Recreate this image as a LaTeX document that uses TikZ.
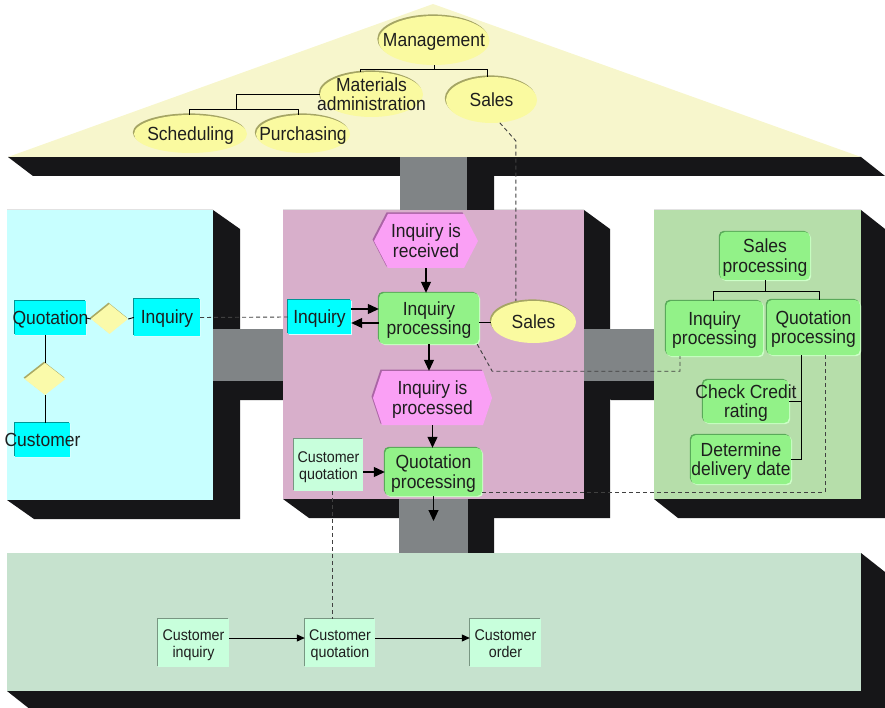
\documentclass[tikz,border=0pt]{standalone}
\usepackage{fontspec}
\setmainfont{Liberation Sans}[FakeStretch=0.92]
\usetikzlibrary{shapes.geometric,shadows,arrows.meta}

\definecolor{ink}{RGB}{30,30,30}
\definecolor{slabc}{RGB}{22,22,24}
\definecolor{connc}{RGB}{128,132,134}
\definecolor{roofc}{RGB}{247,246,204}
\definecolor{orgpanel}{RGB}{200,255,255}
\definecolor{procpanel}{RGB}{216,175,203}
\definecolor{funcpanel}{RGB}{182,222,170}
\definecolor{outpanel}{RGB}{198,226,206}
\definecolor{ellfill}{RGB}{250,250,160}
\definecolor{elledge}{RGB}{165,165,100}
\definecolor{clsfill}{RGB}{0,255,255}
\definecolor{clsedge}{RGB}{0,150,150}
\definecolor{clslight}{RGB}{215,255,255}
\definecolor{fnfill}{RGB}{146,242,136}
\definecolor{fnedge}{RGB}{90,170,90}
\definecolor{fnlight}{RGB}{205,255,200}
\definecolor{hexfill}{RGB}{250,160,245}
\definecolor{hexedge}{RGB}{170,100,165}
\definecolor{docfill}{RGB}{200,255,220}
\definecolor{docedge}{RGB}{120,150,130}
\definecolor{relfill}{RGB}{250,250,170}
\definecolor{reledge}{RGB}{170,170,100}

\newcommand\bigtxt{\fontsize{19}{19.5}\selectfont}
\newcommand\smalltxt{\fontsize{15.5}{17.7}\selectfont}
% centred label of zero width, so the text never changes the size of its shape
\newcommand\lbl[1]{\makebox[0pt]{\raisebox{-2.5pt}[\height][\depth]{\begin{tabular}{@{}c@{}}#1\end{tabular}}}}
% block of a slab seen from above: the rectangle plus its extrusion towards the lower right
\newcommand\slabfill[6]{\fill[slab] (#1,#2) -- (#3,#2) -- (#3+#5,#2+#6) -- (#3+#5,#4+#6) -- (#1+#5,#4+#6) -- (#1,#4) -- cycle;}
% event hexagon: centre x, centre y, half width, half height, slant
\newcommand\eventhex[5]{%
  \fill[hexedge] (#1-#3-1.5,#2-1.5) -- (#1-#3+#5-1.5,#2-#4-1.5) -- (#1+#3-#5-1.5,#2-#4-1.5) -- (#1+#3-1.5,#2-1.5) -- (#1+#3-#5-1.5,#2+#4-1.5) -- (#1-#3+#5-1.5,#2+#4-1.5) -- cycle;
  \fill[hexfill] (#1-#3,#2) -- (#1-#3+#5,#2-#4) -- (#1+#3-#5,#2-#4) -- (#1+#3,#2) -- (#1+#3-#5,#2+#4) -- (#1-#3+#5,#2+#4) -- cycle;}

\tikzset{
  slab/.style={fill=slabc},
  conn/.style={fill=connc},
  txt/.style={text=ink, inner sep=0pt, font=\bigtxt},
  ell/.style={ellipse, inner sep=0pt, fill=ellfill,
    general shadow={fill=elledge, shadow xshift=-1.2pt, shadow yshift=1.6pt}},
  cls/.style={rectangle, txt, fill=clsfill,
    general shadow={fill=clslight, shadow xshift=1.2pt, shadow yshift=-1.2pt},
    general shadow={fill=clsedge, shadow xshift=-1.2pt, shadow yshift=1.2pt}},
  fn/.style={rectangle, rounded corners=5pt, txt, fill=fnfill,
    general shadow={fill=fnlight, shadow xshift=1.2pt, shadow yshift=-1.2pt},
    general shadow={fill=fnedge, shadow xshift=-1.2pt, shadow yshift=1.2pt}},
  doc/.style={rectangle, txt, font=\smalltxt, fill=docfill,
    general shadow={fill=docedge, shadow xshift=-1pt, shadow yshift=1.2pt}},
  rel/.style={diamond, inner sep=0pt, fill=relfill,
    general shadow={fill=reledge, shadow xshift=-1pt, shadow yshift=1.4pt}},
  arr/.style={draw=black, line width=1.1pt, -{Triangle[length=11pt,width=10pt]}},
  arrs/.style={draw=black, line width=1pt, -{Triangle[length=8pt,width=7pt]}},
  tree/.style={draw=black, line width=0.9pt},
  xref/.style={draw=ink!85, line width=0.9pt, dash pattern=on 4pt off 3pt},
}

\begin{document}
\begin{tikzpicture}[x=1pt,y=-1pt]
\useasboundingbox (0,0) rectangle (885,708);
\clip (0,0) rectangle (885,708);

% ---- slabs: extrusions first
\fill[slab] (8,157) -- (861,157) -- (885,176) -- (33,176) -- cycle;
\slabfill{7}{210}{213}{500}{27}{19}
\slabfill{283}{210}{584}{499}{26}{19}
\slabfill{654}{210}{861}{499}{24}{19}
\slabfill{7}{553}{861}{691}{24}{19}
% connecting beams
\slabfill{400}{157}{467}{210}{27}{19}
\slabfill{213}{329}{283}{381}{27}{19}
\slabfill{584}{329}{654}{381}{27}{19}
\slabfill{399}{499}{468}{553}{26}{19}
\fill[conn] (400,157) rectangle (467,210);
\fill[conn] (213,329) rectangle (283,381);
\fill[conn] (584,329) rectangle (654,381);
\fill[conn] (399,499) rectangle (468,553);
% faces
\fill[roofc] (8,157) -- (433,4) -- (861,157) -- cycle;
\fill[orgpanel] (7,210) rectangle (213,500);
\fill[procpanel] (283,210) rectangle (584,499);
\fill[funcpanel] (654,210) rectangle (861,499);
\fill[outpanel] (7,553) rectangle (861,691);

% ---- organisation (roof)
\node[ell, minimum width=111pt, minimum height=49pt] (mgmt) at (434,40.5) {};
\node[txt] (mgmtt) at (mgmt) {\lbl{Management}};
\node[ell, minimum width=103pt, minimum height=45pt] (mat) at (371.5,94.5) {};
\node[txt] (matt) at (mat) {\lbl{Materials\\administration}};
\node[ell, minimum width=91pt, minimum height=46pt] (salesR) at (491.5,100) {};
\node[txt] (salesRt) at (salesR) {\lbl{Sales}};
\node[ell, minimum width=113pt, minimum height=38pt] (sched) at (190.5,134) {};
\node[txt] (schedt) at (sched) {\lbl{Scheduling}};
\node[ell, minimum width=94pt, minimum height=38pt] (purch) at (303,134) {};
\node[txt] (purcht) at (purch) {\lbl{Purchasing}};

\draw[tree] (mgmt.south) -- ++(0,4) coordinate (mj);
\draw[tree] ([xshift=-11pt]mat.north) |- (mj) -| ([xshift=-4.5pt]salesR.north);
\draw[tree] (mat.west) -- ++(-83,0) -- ++(0,15) coordinate (pj);
\draw[tree] ([xshift=-1.5pt]sched.north) |- (pj) -| ([xshift=-5pt]purch.north);

% ---- data (left)
\node[cls, minimum width=71pt, minimum height=34pt] (quot) at (50.5,318) {\lbl{Quotation}};
\node[rel, minimum width=37pt, minimum height=30pt] (rel1) at (109.5,319) {};
\node[cls, minimum width=66pt, minimum height=37pt] (inqC) at (167,317.5) {\lbl{Inquiry}};
\node[rel, minimum width=41pt, minimum height=32pt] (rel2) at (45,379) {};
\node[cls, minimum width=55pt, minimum height=34pt] (cust) at (42.5,440) {\lbl{Customer}};

\draw[tree] (quot.east) -- (rel1.west);
\draw[tree] (rel1.east) -- (inqC.west);
\draw[tree] (rel2.north) -- (rel2.north |- quot.south);
\draw[tree] (rel2.south) -- (rel2.south |- cust.north);

% ---- control (centre)
\eventhex{426}{241}{52}{27}{14}
\node[txt, minimum width=76pt, minimum height=54pt] (ev1) at (426,241) {\lbl{Inquiry is\\received}};
\node[fn, minimum width=100pt, minimum height=51pt] (iproc) at (429,318.5) {\lbl{Inquiry\\processing}};
\node[cls, minimum width=63pt, minimum height=34pt] (inqP) at (319.5,317) {\lbl{Inquiry}};
\node[ell, minimum width=85pt, minimum height=42pt] (salesP) at (533.5,322) {};
\node[txt] (salesPt) at (salesP) {\lbl{Sales}};
\eventhex{432.5}{398}{59.5}{27}{9}
\node[txt, minimum width=101pt, minimum height=54pt] (ev2) at (432.5,398) {\lbl{Inquiry is\\processed}};
\node[fn, minimum width=97pt, minimum height=48pt] (qproc) at (433.5,472) {\lbl{Quotation\\processing}};
\node[doc, minimum width=69pt, minimum height=52pt] (cquoP) at (328.5,465) {\lbl{Customer\\quotation}};
\coordinate (qout) at (433.5,521);

\draw[arr] (ev1.south) -- (ev1.south |- iproc.north);
\draw[arr] (iproc.south) -- (iproc.south |- ev2.north);
\draw[arr] (ev2.south) -- (ev2.south |- qproc.north);
\draw[arr] (qproc.south) -- (qout);
\draw[arr] ([yshift=8pt]inqP.east) -- ([yshift=8pt]inqP.east -| iproc.west);
\draw[arr] ([yshift=-4.5pt]iproc.west) -- ([yshift=-4.5pt]iproc.west -| inqP.east);
\draw[arr] (cquoP.east |- qproc.west) -- (qproc.west);
\draw[tree] (salesP.west) -- (salesP.west -| iproc.east);

% ---- functions (right)
\node[fn, minimum width=90pt, minimum height=48pt] (sproc) at (765,256) {\lbl{Sales\\processing}};
\node[fn, minimum width=97pt, minimum height=55pt] (iproc2) at (714.5,328.5) {\lbl{Inquiry\\processing}};
\node[fn, minimum width=93pt, minimum height=55pt] (qproc2) at (813.5,327.5) {\lbl{Quotation\\processing}};
\node[fn, minimum width=86pt, minimum height=43pt] (credit) at (746,401.5) {\lbl{Check Credit\\rating}};
\node[fn, minimum width=100pt, minimum height=49pt] (deliv) at (741,459.5) {\lbl{Determine\\delivery date}};

\draw[tree] (sproc.south) -- ++(0,11) coordinate (sj);
\draw[tree] ([xshift=-1.5pt]iproc2.north) |- (sj) -| ([xshift=5.5pt]qproc2.north);
\draw[tree] ([xshift=-12.5pt]qproc2.south) coordinate (qt) |- (deliv.east);
\draw[tree] (credit.east) -- (credit.east -| qt);

% ---- output (bottom)
\node[doc, minimum width=71pt, minimum height=48pt] (ci) at (193.5,643) {\lbl{Customer\\inquiry}};
\node[doc, minimum width=70pt, minimum height=48pt] (cq) at (340,643) {\lbl{Customer\\quotation}};
\node[doc, minimum width=71pt, minimum height=48pt] (co) at (505.5,643) {\lbl{Customer\\order}};
\draw[arrs] ([yshift=5pt]ci.east) -- ([yshift=5pt]ci.east -| cq.west);
\draw[arrs] ([yshift=5pt]cq.east) -- ([yshift=5pt]cq.east -| co.west);

% ---- cross references
\draw[xref] (salesR.290) -- ++(16,18) coordinate (sd) -- (sd |- salesP.north);
\draw[xref] (inqC.east) -- (inqP.west);
\draw[xref] ([xshift=-2pt]iproc.south east) -- ++(15,27) -| ([xshift=-34.5pt]iproc2.south);
\draw[xref] ([yshift=4pt]qproc.south east) -| ([xshift=11.5pt]qproc2.south);
\draw[xref] ([xshift=4pt]cquoP.south) -- ([xshift=4pt]cquoP.south |- cq.north);
\end{tikzpicture}
\end{document}
